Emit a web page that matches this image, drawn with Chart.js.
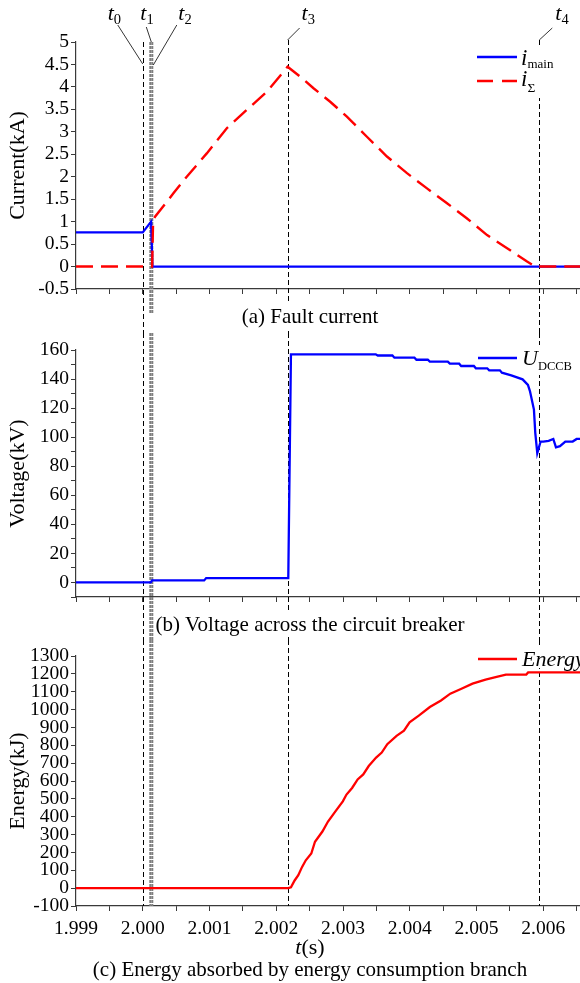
<!DOCTYPE html>
<html>
<head>
<meta charset="utf-8">
<script src="https://cdn.jsdelivr.net/npm/chart.js@4.4.1/dist/chart.umd.min.js"></script>
<style>
  html, body { margin: 0; padding: 0; background: #fff; overflow: hidden; }
  #wrap { position: relative; width: 580px; height: 983px; }
  #wrap canvas { position: absolute; left: 0; }
</style>
</head>
<body>
<div id="wrap">
  <canvas id="current" width="580" height="333" style="top:0"></canvas>
  <canvas id="voltage" width="580" height="307" style="top:333px"></canvas>
  <canvas id="energy" width="580" height="343" style="top:640px"></canvas>
</div>
<script>
  var SERIF = "'Liberation Serif', 'Times New Roman', serif";
  var AXIS = '#3a3a3a';

  // ---------------- time axis (s) ----------------
  var xMin = 1.999;
  var xMax = 2.00655;
  var xTicks = [1.999, 1.9995, 2.0, 2.0005, 2.001, 2.0015, 2.002, 2.0025, 2.003, 2.0035, 2.004, 2.0045, 2.005, 2.0055, 2.006, 2.0065];

  // switching instants t0..t4
  var eventTimes = [2.0, 2.000113, 2.000143, 2.00217, 2.00594];
  var eventSubs = ['0', '1', '2', '3', '4'];

  // ---------------- (a) fault current, kA ----------------
  var tMain = [1.999, 2.0, 2.000125, 2.000145, 2.00656];
  var iMain = [0.76, 0.76, 1.0, 0, 0];

  var tSum = [1.999, 2.00014, 2.000155, 2.000184, 2.000459, 2.000659, 2.000959, 2.001259, 2.001559, 2.001859, 2.00217,
    2.002358, 2.002558, 2.002808, 2.003058, 2.003358, 2.003658, 2.003958, 2.004258, 2.004558, 2.004858, 2.005158,
    2.005458, 2.005757, 2.00588, 2.00656];
  var iSum = [0, 0, 1.02, 1.11, 1.63, 2.0, 2.52, 3.08, 3.49, 3.89, 4.45,
    4.23, 3.97, 3.67, 3.34, 2.89, 2.45, 2.08, 1.74, 1.41, 1.07, 0.70,
    0.41, 0.11, 0, 0];
  var yTicksCurrent = [-0.5, 0, 0.5, 1, 1.5, 2, 2.5, 3, 3.5, 4, 4.5, 5];

  // ---------------- (b) breaker voltage, kV ----------------
  var tVolt = [1.999, 2.00012, 2.00014, 2.00092, 2.00095, 2.00218, 2.00222, 2.00349, 2.00352, 2.00374, 2.00377,
    2.00407, 2.0041, 2.00427, 2.0043, 2.00457, 2.0046, 2.00474, 2.00477, 2.00496, 2.00499, 2.00516, 2.00519,
    2.00535, 2.00538, 2.00552, 2.00569, 2.00577, 2.0058, 2.00586, 2.00588, 2.00591, 2.00596, 2.006, 2.00608,
    2.00615, 2.00619, 2.00625, 2.00633, 2.00644, 2.0065, 2.00656];
  var uVolt = [0, 0, 1.4, 1.4, 3, 3, 157, 157, 156.2, 156.2, 154.7,
    154.7, 153.3, 153.3, 152, 152, 150.6, 150.6, 149, 149, 147.4, 147.4, 146,
    146, 144.4, 142.5, 139.8, 136, 131.7, 119, 103, 89, 97, 97, 97.5,
    98.8, 93, 93.8, 97, 97, 98.8, 98.8];
  var yTicksVoltage = [-10, 0, 10, 20, 30, 40, 50, 60, 70, 80, 90, 100, 110, 120, 130, 140, 150, 160];

  // ---------------- (c) absorbed energy, kJ ----------------
  var tEnergy = [1.999, 2.00218, 2.00222, 2.002275, 2.00233, 2.002387, 2.002442, 2.002525, 2.00258, 2.002691,
    2.002775, 2.002886, 2.002997, 2.003052, 2.003136, 2.003219, 2.003303, 2.003385, 2.003496, 2.00358, 2.003663,
    2.003802, 2.003913, 2.003997, 2.004135, 2.004301, 2.004468, 2.004607, 2.004774, 2.00494, 2.005135, 2.005301,
    2.00544, 2.005745, 2.005773, 2.00656];
  var energy = [0, 0, 5, 43, 72, 119, 156, 194, 260, 317,
    373, 430, 486, 524, 561, 609, 637, 684, 731, 759, 806,
    853, 882, 929, 966, 1014, 1051, 1089, 1117, 1145, 1168, 1183,
    1196, 1196, 1208, 1208];
  var yTicksEnergy = [-100, 0, 100, 200, 300, 400, 500, 600, 700, 800, 900, 1000, 1100, 1200, 1300];

  function points(xs, ys) {
    return xs.map(function (x, i) { return { x: x, y: ys[i] }; });
  }

  function isMajor(v) {
    return Math.abs(v * 1000 - Math.round(v * 1000)) < 1e-6;
  }

  function xScale(showLabels, height) {
    return {
      type: 'linear',
      min: xMin,
      max: xMax,
      afterBuildTicks: function (s) { s.ticks = xTicks.map(function (v) { return { value: v }; }); },
      afterFit: function (s) {
        s.height = height;
        // keep the plot flush with both canvas edges
        s.paddingLeft = 0;
        s.paddingRight = 0;
      },
      border: { display: true, color: AXIS, width: 1.2 },
      grid: { drawOnChartArea: false, drawTicks: true, tickLength: 5, tickColor: AXIS, tickWidth: 1 },
      ticks: {
        display: showLabels,
        autoSkip: false,
        maxRotation: 0,
        padding: 6,
        color: '#000',
        font: { family: SERIF, size: 19.5 },
        callback: function (v) { return isMajor(v) ? v.toFixed(3) : ''; }
      }
    };
  }

  function yScale(min, max, ticks, title, labelFn) {
    return {
      type: 'linear',
      min: min,
      max: max,
      afterBuildTicks: function (s) { s.ticks = ticks.map(function (v) { return { value: v }; }); },
      afterFit: function (s) { s.width = 76; },
      border: { display: true, color: AXIS, width: 1.2 },
      grid: { drawOnChartArea: false, drawTicks: true, tickLength: 5, tickColor: AXIS, tickWidth: 1 },
      ticks: {
        autoSkip: false,
        padding: 2,
        color: '#000',
        font: { family: SERIF, size: 19.5 },
        callback: labelFn || function (v) { return String(v); }
      },
      title: {
        display: true,
        text: title,
        color: '#000',
        font: { family: SERIF, size: 22 },
        padding: { top: 5, bottom: 0 }
      }
    };
  }

  function baseOptions(padding, xs, ys) {
    return {
      responsive: false,
      animation: false,
      events: [],
      layout: { padding: padding },
      plugins: { legend: { display: false }, tooltip: { enabled: false }, title: { display: false } },
      elements: { point: { radius: 0 }, line: { tension: 0 } },
      scales: { x: xs, y: ys }
    };
  }

  // vertical dashed markers for t0..t4; t1/t2 are the grey pair
  function eventLines(ext) {
    return {
      id: 'eventLines',
      beforeDatasetsDraw: function (chart) {
        var ctx = chart.ctx, sx = chart.scales.x, area = chart.chartArea;
        var lim = ext(chart, area);
        ctx.save();
        eventTimes.forEach(function (t, i) {
          var grey = i === 1 || i === 2;
          var px = sx.getPixelForValue(t);
          ctx.beginPath();
          if (grey) {
            ctx.strokeStyle = '#7f7f7f';
            ctx.lineWidth = 2;
            ctx.setLineDash([3, 1]);
            ctx.moveTo(px, lim.greyTop);
            ctx.lineTo(px, lim.greyBottom);
          } else {
            px = Math.round(px) + 0.5;
            ctx.strokeStyle = '#000';
            ctx.lineWidth = 1;
            ctx.setLineDash([5, 3]);
            ctx.moveTo(px, i === 0 ? lim.top0 : lim.top);
            ctx.lineTo(px, lim.bottom);
          }
          ctx.stroke();
        });
        ctx.restore();
      }
    };
  }

  function drawCaption(ctx, text, cx, cy, boxH, inset) {
    ctx.save();
    ctx.font = '21px ' + SERIF;
    var w = ctx.measureText(text).width;
    ctx.fillStyle = '#fff';
    ctx.fillRect(cx - w / 2 + (inset || 0), cy - boxH / 2, w - (inset || 0), boxH);
    ctx.fillStyle = '#000';
    ctx.textAlign = 'center';
    ctx.textBaseline = 'middle';
    ctx.fillText(text, cx, cy);
    ctx.restore();
  }

  // italic symbol followed by an upright subscript
  function symbol(ctx, x, base, main, mainSize, sub, subSize, subBase) {
    ctx.font = 'italic ' + mainSize + 'px ' + SERIF;
    ctx.textAlign = 'left';
    ctx.textBaseline = 'alphabetic';
    ctx.fillStyle = '#000';
    ctx.fillText(main, x, base);
    if (sub) {
      var w = ctx.measureText(main).width;
      ctx.font = subSize + 'px ' + SERIF;
      ctx.fillText(sub, x + w, subBase);
    }
  }

  function legendLine(ctx, x0, x1, y, color, dash) {
    ctx.save();
    ctx.beginPath();
    ctx.strokeStyle = color;
    ctx.lineWidth = 2.4;
    ctx.setLineDash(dash || []);
    ctx.moveTo(x0, y);
    ctx.lineTo(x1, y);
    ctx.stroke();
    ctx.restore();
  }

  // ---------------- chart (a) ----------------
  var tagLayout = [
    { lx: -35, from: [-25, 25], to: [0, 64] },
    { lx: -10, from: [-4, 27], to: [1, 42] },
    { lx: 26, from: [24.5, 25], to: [1, 65] },
    { lx: 14, from: [12, 28], to: [0, 40] },
    { lx: 16, from: [13, 28], to: [0, 40] }
  ];

  var currentDecor = {
    id: 'currentDecor',
    afterDraw: function (chart) {
      var ctx = chart.ctx, sx = chart.scales.x;
      ctx.save();
      eventTimes.forEach(function (t, i) {
        var px = sx.getPixelForValue(t), L = tagLayout[i];
        ctx.beginPath();
        ctx.strokeStyle = '#000';
        ctx.lineWidth = 0.8;
        ctx.setLineDash([]);
        ctx.moveTo(px + L.from[0], L.from[1]);
        ctx.lineTo(px + L.to[0], L.to[1]);
        ctx.stroke();
        symbol(ctx, px + L.lx, 20, 't', 22, eventSubs[i], 14.5, 24);
      });
      ctx.fillStyle = '#fff';
      ctx.fillRect(470, 46, 110, 52);
      legendLine(ctx, 477, 517, 57, '#0000ff');
      symbol(ctx, 521, 65, 'i', 23, 'main', 13, 68);
      legendLine(ctx, 477, 517, 81, '#ff0000', [16, 9]);
      symbol(ctx, 521, 86, 'i', 23, '\u03a3', 13.5, 92);
      drawCaption(ctx, '(a) Fault current', 310, 317, 28);
      ctx.restore();
    }
  };

  new Chart(document.getElementById('current'), {
    type: 'line',
    data: {
      datasets: [
        { label: 'i_sum', data: points(tSum, iSum), borderColor: '#ff0000', borderWidth: 2.4, borderDash: [17, 8], order: 0 },
        { label: 'i_main', data: points(tMain, iMain), borderColor: '#0000ff', borderWidth: 2.3, order: 1 }
      ]
    },
    options: baseOptions({ top: 42, bottom: 38, left: 0, right: 0 },
      xScale(false, 6),
      yScale(-0.5, 5, yTicksCurrent, 'Current(kA)')),
    plugins: [eventLines(function (c, a) {
      return { top: a.top - 2, top0: a.top, bottom: c.height, greyTop: a.top, greyBottom: 313 };
    }), currentDecor]
  });

  // ---------------- chart (b) ----------------
  var voltageDecor = {
    id: 'voltageDecor',
    afterDraw: function (chart) {
      var ctx = chart.ctx;
      ctx.save();
      ctx.fillStyle = '#fff';
      ctx.fillRect(519, 12, 61, 30);
      legendLine(ctx, 478, 517, 25, '#0000ff');
      symbol(ctx, 522, 32, 'U', 22, 'DCCB', 12.5, 37);
      drawCaption(ctx, '(b) Voltage across the circuit breaker', 310, 292, 24, 9);
      ctx.restore();
    }
  };

  new Chart(document.getElementById('voltage'), {
    type: 'line',
    data: {
      datasets: [
        { label: 'U_DCCB', data: points(tVolt, uVolt), borderColor: '#0000ff', borderWidth: 2.3 }
      ]
    },
    options: baseOptions({ top: 17, bottom: 37, left: 0, right: 0 },
      xScale(false, 6),
      yScale(-10, 160, yTicksVoltage, 'Voltage(kV)', function (v) {
        return (v >= 0 && v % 20 === 0) ? String(v) : '';
      })),
    plugins: [eventLines(function (c, a) {
      return { top: 0, top0: 0, bottom: c.height, greyTop: 0, greyBottom: c.height };
    }), voltageDecor]
  });

  // ---------------- chart (c) ----------------
  var energyDecor = {
    id: 'energyDecor',
    afterDraw: function (chart) {
      var ctx = chart.ctx;
      ctx.save();
      ctx.fillStyle = '#fff';
      ctx.fillRect(519, 6, 61, 22);
      legendLine(ctx, 478, 517, 19, '#ff0000');
      symbol(ctx, 522, 26, 'Energy', 22);

      // axis title t(s)
      ctx.textBaseline = 'middle';
      ctx.font = 'italic 22px ' + SERIF;
      var wt = ctx.measureText('t').width;
      ctx.font = '22px ' + SERIF;
      var ws = ctx.measureText('(s)').width;
      var x0 = 310 - (wt + ws) / 2;
      ctx.fillStyle = '#000';
      ctx.textAlign = 'left';
      ctx.font = 'italic 22px ' + SERIF;
      ctx.fillText('t', x0, 308);
      ctx.font = '22px ' + SERIF;
      ctx.fillText('(s)', x0 + wt, 308);

      drawCaption(ctx, '(c) Energy absorbed by energy consumption branch', 310, 330, 24);
      ctx.restore();
    }
  };

  new Chart(document.getElementById('energy'), {
    type: 'line',
    data: {
      datasets: [
        { label: 'Energy', data: points(tEnergy, energy), borderColor: '#ff0000', borderWidth: 2.3 }
      ]
    },
    options: baseOptions({ top: 16, bottom: 0, left: 0, right: 0 },
      xScale(true, 77),
      yScale(-100, 1300, yTicksEnergy, 'Energy(kJ)')),
    plugins: [eventLines(function (c, a) {
      return { top: 0, top0: 0, bottom: a.bottom, greyTop: 0, greyBottom: a.bottom };
    }), energyDecor]
  });
</script>
</body>
</html>
